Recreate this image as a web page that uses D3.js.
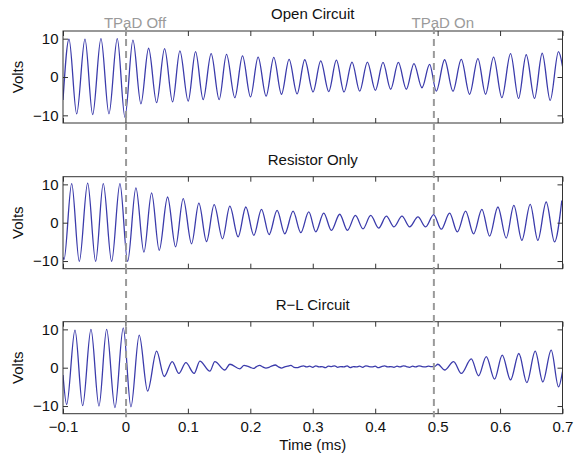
<!DOCTYPE html>
<html>
<head>
<meta charset="utf-8">
<script src="https://cdn.jsdelivr.net/npm/d3@7"></script>
<style>
  html, body { margin: 0; padding: 0; background: #fff; }
  svg { display: block; font-family: "Liberation Sans", Arial, Helvetica, sans-serif; }
</style>
</head>
<body>
<svg id="chart" width="574" height="455"></svg>
<script>
// ---------- data ----------
const xTicks = [-0.1, 0, 0.1, 0.2, 0.3, 0.4, 0.5, 0.6, 0.7];
const yTicks = [-10, 0, 10];
const panelTitles = ["Open Circuit", "Resistor Only", "R\u2212L Circuit"];
const markerTimes = [0.001, 0.494];
const markerLabels = ["TPaD Off", "TPaD On"];
const xLabel = "Time (ms)";
const yLabel = "Volts";

// Open circuit: extrema (time ms, volts)
const openT = [-0.1, -0.0904, -0.0781, -0.0648, -0.0525, -0.0392, -0.0264, -0.0131, -0.0008,
  0.0120, 0.0248, 0.0371, 0.0499, 0.0627, 0.0755, 0.0872, 0.1005, 0.1123, 0.1245, 0.1373,
  0.1501, 0.1619, 0.1752, 0.1875, 0.2003, 0.2125, 0.2253, 0.2376, 0.2499, 0.2621, 0.2749,
  0.2872, 0.3005, 0.3128, 0.3256, 0.3379, 0.3501, 0.3629, 0.3752, 0.3875, 0.4003, 0.4125,
  0.4248, 0.4371, 0.4499, 0.4621, 0.4749, 0.4872, 0.4979, 0.5112, 0.5245, 0.5379, 0.5512,
  0.5645, 0.5768, 0.5896, 0.6029, 0.6168, 0.6296, 0.6419, 0.6552, 0.6675, 0.6803, 0.6936, 0.7];
const openV = [-6.0, 9.9, -9.6, 9.9, -9.8, 10.0, -9.6, 10.0, -10.5,
  9.6, -7.0, 7.5, -6.7, 7.4, -6.5, 6.8, -6.3, 6.6, -5.9, 6.1,
  -5.9, 5.9, -5.4, 5.5, -5.2, 5.2, -5.0, 5.1, -4.5, 4.6, -4.4,
  4.5, -3.9, 4.2, -3.8, 4.4, -3.9, 3.9, -3.7, 3.9, -3.5, 3.8,
  -3.2, 3.8, -3.2, 3.5, -2.8, 3.3, -3.7, 4.5, -3.7, 4.6, -4.5,
  4.8, -4.5, 5.2, -5.4, 6.1, -5.6, 5.8, -5.6, 6.2, -6.1, 6.6, 2.8];

// Resistor only
const resT = [-0.1, -0.0984, -0.0861, -0.0739, -0.0605, -0.0477, -0.0355, -0.0221, -0.0088,
  0.0035, 0.0168, 0.0296, 0.0419, 0.0541, 0.0675, 0.0803, 0.0925, 0.1059, 0.1176, 0.1299,
  0.1421, 0.1555, 0.1672, 0.1805, 0.1928, 0.2056, 0.2179, 0.2301, 0.2429, 0.2552, 0.2685,
  0.2808, 0.2936, 0.3048, 0.3176, 0.3299, 0.3432, 0.3555, 0.3683, 0.3805, 0.3928, 0.4056,
  0.4179, 0.4301, 0.4429, 0.4552, 0.4685, 0.4808, 0.4936, 0.5059, 0.5192, 0.5315, 0.5448,
  0.5576, 0.5709, 0.5832, 0.5965, 0.6099, 0.6221, 0.6349, 0.6483, 0.6605, 0.6739, 0.6872, 0.6989];
const resV = [-9.0, -9.6, 10.2, -10.1, 10.3, -10.1, 10.2, -10.1, 10.2,
  -10.1, 9.1, -7.7, 7.8, -7.2, 6.7, -6.3, 6.3, -5.5, 5.1, -4.9,
  4.7, -4.2, 4.3, -3.7, 4.1, -3.3, 3.5, -3.1, 3.2, -2.9, 3.0,
  -2.6, 2.8, -2.4, 2.5, -2.0, 2.2, -2.0, 1.9, -1.6, 1.9, -1.4,
  1.7, -1.1, 1.7, -1.1, 1.5, -1.1, 2.1, -1.7, 2.5, -2.4, 3.0,
  -2.9, 3.5, -3.5, 4.1, -4.0, 4.5, -4.6, 4.8, -4.6, 5.4, -5.0, 5.8];

// R-L circuit: decay, noisy floor, regrowth
const rlPreT = [-0.1, -0.0941, -0.0808, -0.0685, -0.0552, -0.0424, -0.0301, -0.0168, -0.0035,
  0.0088, 0.0221, 0.0355, 0.0499, 0.0621, 0.0749, 0.0856, 0.0968, 0.1101, 0.1192, 0.1352,
  0.1432, 0.1592, 0.1672, 0.1832];
const rlPreV = [-1.9, -9.6, 9.8, -9.9, 10.0, -10.0, 10.0, -10.4, 10.4,
  -10.2, 8.5, -6.1, 4.3, -2.3, 1.6, -1.5, 1.3, -1.5, 1.7, -0.9,
  1.6, -0.6, 0.9, -0.3];
const rlFloorT = [0.190, 0.195, 0.200, 0.205, 0.210, 0.215, 0.220, 0.225, 0.230, 0.235,
  0.240, 0.245, 0.250, 0.255, 0.260, 0.265, 0.270, 0.275, 0.280, 0.285,
  0.290, 0.295, 0.300, 0.305, 0.310, 0.315, 0.320, 0.325, 0.330, 0.335,
  0.340, 0.345, 0.350, 0.355, 0.360, 0.365, 0.370, 0.375, 0.380, 0.385,
  0.390, 0.395, 0.400, 0.405, 0.410, 0.415, 0.420, 0.425, 0.430, 0.435,
  0.440, 0.445, 0.450, 0.455, 0.460, 0.465, 0.470, 0.475, 0.480, 0.485,
  0.490, 0.495];
const rlFloorV = [0.6, 0.4, 0.1, -0.2, 0.3, 0.6, 0.2, -0.1, 0.1, 0.5,
  0.7, 0.2, -0.1, 0.2, 0.4, 0.6, 0.1, 0.0, 0.3, 0.5,
  0.2, 0.4, 0.1, 0.5, 0.2, 0.3, 0.0, 0.4, 0.3, 0.5,
  0.1, 0.3, 0.2, 0.5, 0.0, 0.3, 0.2, 0.4, 0.1, 0.5,
  0.3, 0.2, 0.4, 0.0, 0.3, 0.5, 0.2, 0.3, 0.1, 0.4,
  0.2, 0.5, 0.3, 0.1, 0.4, 0.2, 0.5, 0.3, 0.2, 0.4,
  0.3, 0.3];
const rlPostT = [0.5005, 0.5112, 0.5256, 0.5379, 0.5539, 0.5656, 0.5779, 0.5912, 0.6035,
  0.6168, 0.6301, 0.6429, 0.6563, 0.6685, 0.6819, 0.6936, 0.7];
const rlPostV = [0.9, -0.6, 1.6, -1.5, 2.3, -2.1, 2.9, -3.0, 3.3,
  -3.2, 3.7, -3.9, 4.3, -3.7, 4.6, -5.0, -1.0];

// ---------- layout ----------
const plotLeft = 63, plotRight = 562.5;
const panelTops = [31, 176.7, 321.7];
const panelH = 92;
const lineColor = "#3b3bab";
const frameColor = "#333";
const markColor = "#9a9a9a";

const svg = d3.select("#chart");
const x = d3.scaleLinear().domain([-0.1, 0.7]).range([plotLeft, plotRight]);

const series = [
  { t: openT, v: openV },
  { t: resT, v: resV },
  { t: [...rlPreT, ...rlFloorT, ...rlPostT], v: [...rlPreV, ...rlFloorV, ...rlPostV] }
];

const lineGen = (y) => d3.line()
  .x(d => x(d[0]))
  .y(d => y(d[1]))
  .curve(d3.curveMonotoneX);

const yScales = [];
panelTitles.forEach((title, i) => {
  const top = panelTops[i];
  const y = d3.scaleLinear().domain([-12, 12]).range([top + panelH, top]);
  yScales.push(y);
  const g = svg.append("g");

  g.append("clipPath").attr("id", "clip" + i)
    .append("rect")
    .attr("x", plotLeft).attr("y", top)
    .attr("width", plotRight - plotLeft).attr("height", panelH);

  // data line
  const pts = series[i].t.map((t, k) => [t, series[i].v[k]]);
  g.append("path")
    .attr("clip-path", "url(#clip" + i + ")")
    .attr("d", lineGen(y)(pts))
    .attr("fill", "none")
    .attr("stroke", lineColor)
    .attr("stroke-width", 1.3)
    .attr("stroke-linejoin", "round");

  // axes with inward ticks
  const isLast = i === panelTitles.length - 1;
  const fmtX = isLast ? (d => d3.format("")(d)) : () => "";
  const bottomAx = g.append("g")
    .attr("transform", `translate(0,${top + panelH})`)
    .call(d3.axisBottom(x).tickValues(xTicks).tickSize(-5).tickPadding(8).tickFormat(fmtX));
  const topAx = g.append("g")
    .attr("transform", `translate(0,${top})`)
    .call(d3.axisTop(x).tickValues(xTicks).tickSize(-5).tickFormat(() => ""));
  const leftAx = g.append("g")
    .attr("transform", `translate(${plotLeft},0)`)
    .call(d3.axisLeft(y).tickValues(yTicks).tickSize(-5).tickPadding(4.5).tickFormat(d3.format("")));
  const rightAx = g.append("g")
    .attr("transform", `translate(${plotRight},0)`)
    .call(d3.axisRight(y).tickValues(yTicks).tickSize(-5).tickFormat(() => ""));
  [bottomAx, topAx, leftAx, rightAx].forEach(a => {
    a.select(".domain").remove();
    a.selectAll("line").attr("stroke", frameColor);
    a.selectAll("text").attr("fill", "#111").style("font-size", "15px")
      .style("font-family", '"Liberation Sans", Arial, sans-serif');
  });

  // frame
  g.append("rect")
    .attr("x", plotLeft).attr("y", top)
    .attr("width", plotRight - plotLeft).attr("height", panelH)
    .attr("fill", "none").attr("stroke", frameColor).attr("stroke-width", 1);

  // title
  g.append("text")
    .attr("x", (plotLeft + plotRight) / 2)
    .attr("y", top - 12)
    .attr("text-anchor", "middle")
    .style("font-size", "15px")
    .attr("fill", "#111")
    .text(title);

  // y label
  g.append("text")
    .attr("transform", `translate(23,${top + panelH / 2}) rotate(-90)`)
    .attr("text-anchor", "middle")
    .style("font-size", "15px")
    .attr("fill", "#111")
    .text(yLabel);
});

// dashed marker lines spanning all panels
const yTopMark = yScales[0](12) - 4;
const yBotMark = yScales[2](-12) + 3.5;
markerTimes.forEach((t, i) => {
  svg.append("line")
    .attr("x1", x(t)).attr("x2", x(t))
    .attr("y1", yTopMark).attr("y2", yBotMark)
    .attr("stroke", markColor)
    .attr("stroke-width", 2)
    .attr("stroke-dasharray", "7,5");
  svg.append("text")
    .attr("x", x(t) + 9)
    .attr("y", 27.5)
    .attr("text-anchor", "middle")
    .style("font-size", "15px")
    .attr("fill", markColor)
    .text(markerLabels[i]);
});

// x label
svg.append("text")
  .attr("x", (plotLeft + plotRight) / 2)
  .attr("y", 450)
  .attr("text-anchor", "middle")
  .style("font-size", "15px")
  .attr("fill", "#111")
  .text(xLabel);
</script>
</body>
</html>
